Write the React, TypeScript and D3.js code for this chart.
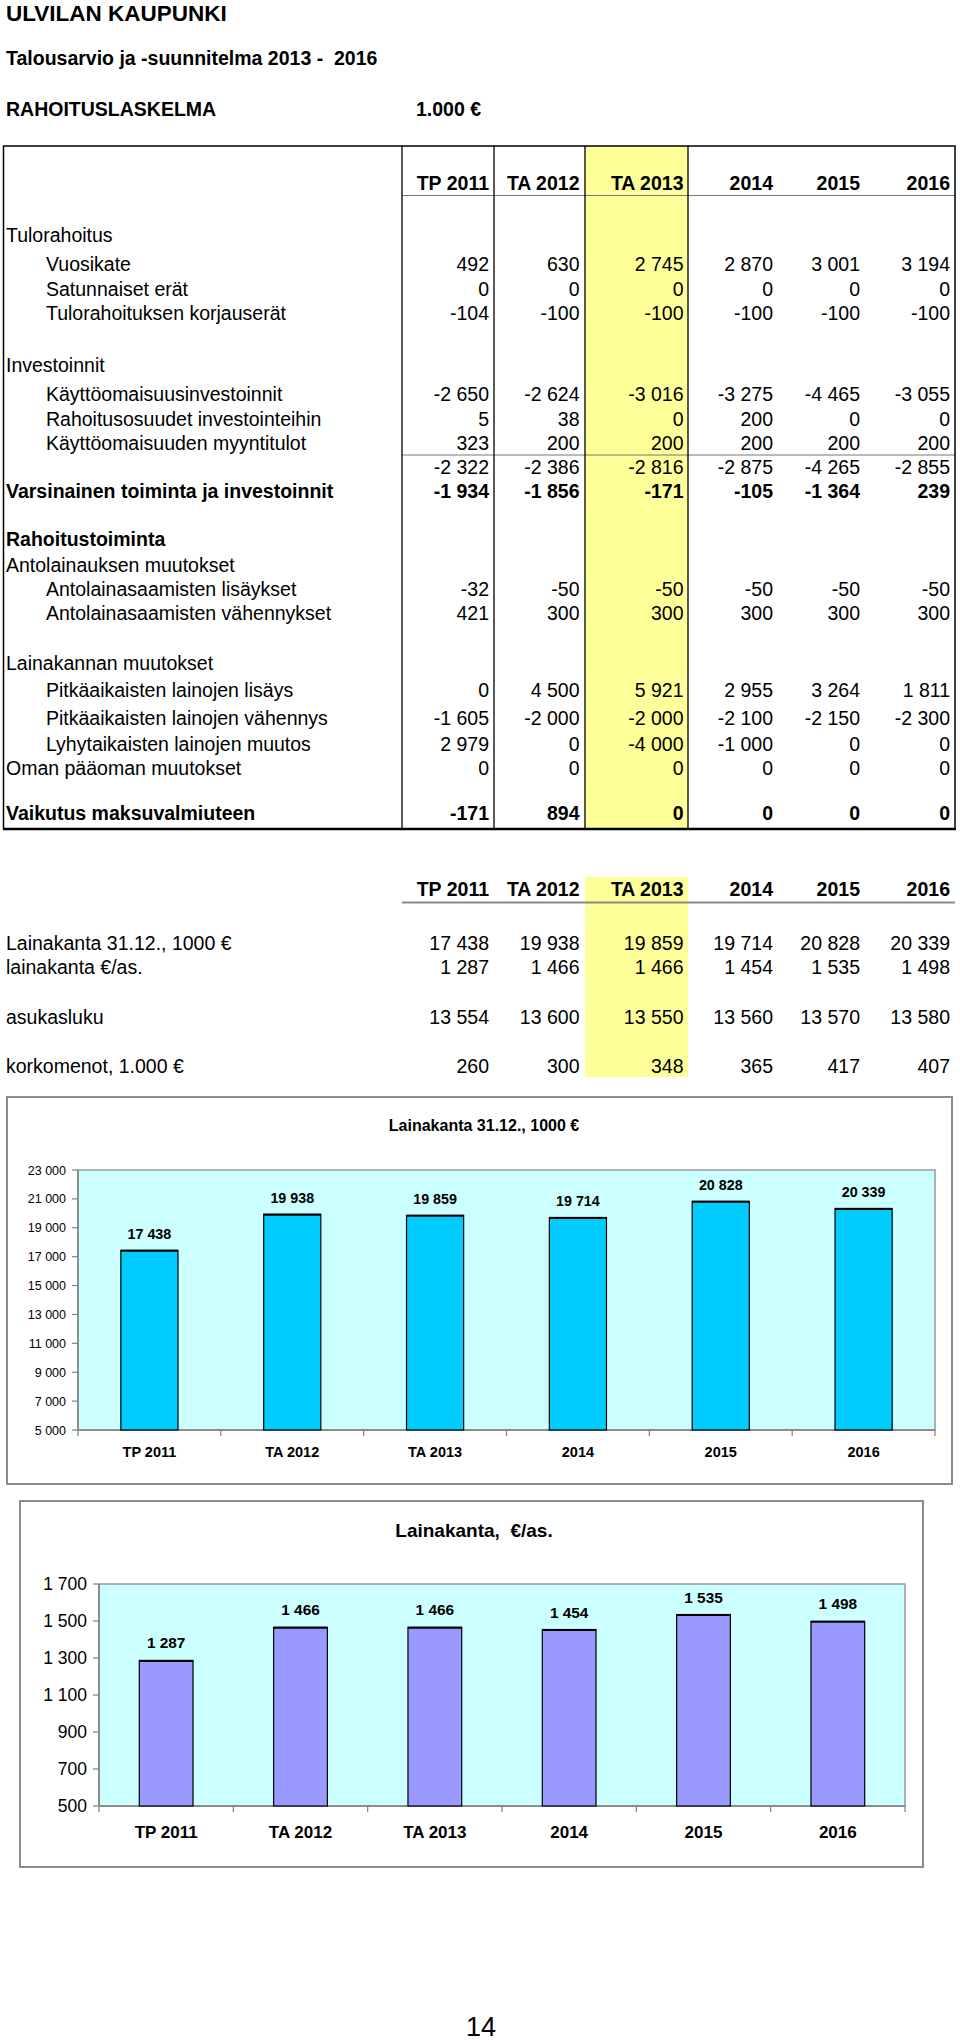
import { formatLocale, range, scaleBand, scaleLinear } from 'd3'

// --- data (1.000 €) ---
const years = ['TP 2011', 'TA 2012', 'TA 2013', '2014', '2015', '2016']

const vuosikate = [492, 630, 2745, 2870, 3001, 3194]
const satunnaisetErat = [0, 0, 0, 0, 0, 0]
const korjauserat = [-104, -100, -100, -100, -100, -100]
const kayttoInvestoinnit = [-2650, -2624, -3016, -3275, -4465, -3055]
const rahoitusosuudet = [5, 38, 0, 200, 0, 0]
const myyntitulot = [323, 200, 200, 200, 200, 200]
const investoinnitYht = [-2322, -2386, -2816, -2875, -4265, -2855]
const varsinainen = [-1934, -1856, -171, -105, -1364, 239]
const antolainaLisays = [-32, -50, -50, -50, -50, -50]
const antolainaVah = [421, 300, 300, 300, 300, 300]
const pitkaLisays = [0, 4500, 5921, 2955, 3264, 1811]
const pitkaVah = [-1605, -2000, -2000, -2100, -2150, -2300]
const lyhytMuutos = [2979, 0, -4000, -1000, 0, 0]
const omaPaaoma = [0, 0, 0, 0, 0, 0]
const vaikutus = [-171, 894, 0, 0, 0, 0]

const lainakanta = [17438, 19938, 19859, 19714, 20828, 20339]
const lainakantaAs = [1287, 1466, 1466, 1454, 1535, 1498]
const asukasluku = [13554, 13600, 13550, 13560, 13570, 13580]
const korkomenot = [260, 300, 348, 365, 417, 407]

type Row = { label: string, values?: number[], indent?: boolean, bold?: boolean }

const tableRows: Row[] = [
  { label: 'Tulorahoitus' },
  { label: 'Vuosikate', values: vuosikate, indent: true },
  { label: 'Satunnaiset erät', values: satunnaisetErat, indent: true },
  { label: 'Tulorahoituksen korjauserät', values: korjauserat, indent: true },
  { label: 'Investoinnit' },
  { label: 'Käyttöomaisuusinvestoinnit', values: kayttoInvestoinnit, indent: true },
  { label: 'Rahoitusosuudet investointeihin', values: rahoitusosuudet, indent: true },
  { label: 'Käyttöomaisuuden myyntitulot', values: myyntitulot, indent: true },
  { label: '', values: investoinnitYht },
  { label: 'Varsinainen toiminta ja investoinnit', values: varsinainen, bold: true },
  { label: 'Rahoitustoiminta', bold: true },
  { label: 'Antolainauksen muutokset' },
  { label: 'Antolainasaamisten lisäykset', values: antolainaLisays, indent: true },
  { label: 'Antolainasaamisten vähennykset', values: antolainaVah, indent: true },
  { label: 'Lainakannan muutokset' },
  { label: 'Pitkäaikaisten lainojen lisäys', values: pitkaLisays, indent: true },
  { label: 'Pitkäaikaisten lainojen vähennys', values: pitkaVah, indent: true },
  { label: 'Lyhytaikaisten lainojen muutos', values: lyhytMuutos, indent: true },
  { label: 'Oman pääoman muutokset', values: omaPaaoma },
  { label: 'Vaikutus maksuvalmiuteen', values: vaikutus, bold: true },
]

const keyRows: Row[] = [
  { label: 'Lainakanta 31.12., 1000 €', values: lainakanta },
  { label: 'lainakanta €/as.', values: lainakantaAs },
  { label: 'asukasluku', values: asukasluku },
  { label: 'korkomenot, 1.000 €', values: korkomenot },
]

// --- layout ---
const rowY = [242, 270.5, 296, 320, 371.5, 400.5, 426, 450, 474.3, 497.5,
  546, 571.7, 596, 620, 670, 697, 725, 750.7, 775, 820]
const keyRowY = [950, 974, 1024, 1072.5]
const colRight = [489, 579.5, 683.5, 773, 860, 950]
const FONT = '"Liberation Sans", Arial, Helvetica, sans-serif'
const FS = 19.5

const fmt = formatLocale({ decimal: ',', thousands: ' ', grouping: [3], currency: ['', '€'], minus: '-' }).format(',d')

const T = ({ x, y, children, size = FS, bold = false, anchor = 'start' }: any) => (
  <text x={x} y={y} fontSize={size} fontWeight={bold ? 'bold' : 'normal'} textAnchor={anchor}
        fontFamily={FONT} fill='#000' style={{ whiteSpace: 'pre' }}>{children}</text>
)

const BarChart = ({ values, title, box, plot, domain, step, fill, titleX, titleSize, titleY, tickSize, catSize, catY, valSize, valGap }: any) => {
  const x = scaleBand().domain(years).range([plot.x0, plot.x1]).paddingInner(0.6).paddingOuter(0.3)
  const y = scaleLinear().domain(domain).range([plot.y1, plot.y0])
  const ticks = range(domain[0], domain[1] + 1, step)
  const edges = range(0, years.length + 1).map(i => plot.x0 + i * x.step())
  return (
    <g>
      <rect x={box.x0} y={box.y0} width={box.x1 - box.x0} height={box.y1 - box.y0} fill='#fff' stroke='#8c8c8c' strokeWidth={2} />
      <T x={titleX} y={titleY} size={titleSize} bold anchor='middle'>{title}</T>
      <rect x={plot.x0} y={plot.y0} width={plot.x1 - plot.x0} height={plot.y1 - plot.y0} fill='#CCFFFF' stroke='#999' strokeWidth={1.5} />
      <line x1={plot.x0} x2={plot.x0} y1={plot.y0} y2={plot.y1} stroke='#808080' strokeWidth={1.5} />
      <line x1={plot.x0} x2={plot.x1} y1={plot.y1} y2={plot.y1} stroke='#808080' strokeWidth={1.5} />
      {ticks.map(t => (
        <g key={t}>
          <line x1={plot.x0 - 6} x2={plot.x0} y1={y(t)} y2={y(t)} stroke='#808080' strokeWidth={1.2} />
          <T x={plot.x0 - 12} y={y(t) + tickSize * 0.36} size={tickSize} anchor='end'>{fmt(t)}</T>
        </g>
      ))}
      {edges.map((e, i) => (
        <line key={i} x1={e} x2={e} y1={plot.y1} y2={plot.y1 + 6} stroke='#808080' strokeWidth={1.2} />
      ))}
      {years.map((c, i) => (
        <g key={c}>
          <rect x={x(c)} y={y(values[i])} width={x.bandwidth()} height={plot.y1 - y(values[i])}
                fill={fill} stroke='#000' strokeWidth={1.2} />
          <line x1={x(c)} x2={(x(c) as number) + x.bandwidth()} y1={y(values[i]) + 0.5} y2={y(values[i]) + 0.5} stroke='#000' strokeWidth={2} />
          <T x={(x(c) as number) + x.bandwidth() / 2} y={y(values[i]) - valGap} size={valSize} bold anchor='middle'>{fmt(values[i])}</T>
          <T x={(x(c) as number) + x.bandwidth() / 2} y={catY} size={catSize} bold anchor='middle'>{c}</T>
        </g>
      ))}
    </g>
  )
}

export default function App() {
  return (
    <svg width={960} height={2041} style={{ position: 'absolute', left: 0, top: 0, display: 'block', background: '#fff' }}>
      <T x={6} y={21} size={22.5} bold>ULVILAN KAUPUNKI</T>
      <T x={6} y={65} bold>Talousarvio ja -suunnitelma 2013 -  2016</T>
      <T x={6} y={116} bold>RAHOITUSLASKELMA</T>
      <T x={416} y={116} bold>1.000 €</T>

      {/* main table */}
      <rect x={585} y={146} width={103} height={683} fill='#FFFF99' />
      <line x1={402} x2={955} y1={195.5} y2={195.5} stroke='#777' strokeWidth={1} />
      <line x1={402} x2={955} y1={455} y2={455} stroke='#777' strokeWidth={1} />
      {[402, 494, 585, 688].map(lx => (
        <line key={lx} x1={lx} x2={lx} y1={146} y2={829} stroke='#000' strokeWidth={1.3} />
      ))}
      <rect x={3.5} y={146} width={951.5} height={683} fill='none' stroke='#000' strokeWidth={1.5} />
      <line x1={3} x2={956} y1={829} y2={829} stroke='#000' strokeWidth={2.5} />
      {years.map((yr, i) => <T key={yr} x={colRight[i]} y={190} bold anchor='end'>{yr}</T>)}
      {tableRows.map((r, ri) => (
        <g key={ri}>
          <T x={r.indent ? 46 : 6} y={rowY[ri]} bold={r.bold}>{r.label}</T>
          {r.values && r.values.map((v, i) => (
            <T key={i} x={colRight[i]} y={rowY[ri]} bold={r.bold} anchor='end'>{fmt(v)}</T>
          ))}
        </g>
      ))}

      {/* key figures */}
      <rect x={585} y={877} width={103} height={200} fill='#FFFF99' />
      <line x1={402} x2={955} y1={902.5} y2={902.5} stroke='#888' strokeWidth={2} />
      {years.map((yr, i) => <T key={yr} x={colRight[i]} y={896} bold anchor='end'>{yr}</T>)}
      {keyRows.map((r, ri) => (
        <g key={ri}>
          <T x={6} y={keyRowY[ri]}>{r.label}</T>
          {r.values!.map((v, i) => <T key={i} x={colRight[i]} y={keyRowY[ri]} anchor='end'>{fmt(v)}</T>)}
        </g>
      ))}

      <BarChart values={lainakanta} title='Lainakanta 31.12., 1000 €'
        box={{ x0: 7, y0: 1097, x1: 952, y1: 1484 }} plot={{ x0: 78, y0: 1170, x1: 935, y1: 1430 }}
        domain={[5000, 23000]} step={2000} fill='#00CCFF'
        titleX={484} titleSize={16} titleY={1131} tickSize={12.5} catSize={14.5} catY={1457} valSize={14.3} valGap={11} />

      <BarChart values={lainakantaAs} title='Lainakanta,  €/as.'
        box={{ x0: 20, y0: 1501, x1: 923, y1: 1867 }} plot={{ x0: 99, y0: 1584, x1: 905, y1: 1806 }}
        domain={[500, 1700]} step={200} fill='#9999FF'
        titleX={474} titleSize={19} titleY={1537} tickSize={17.5} catSize={17} catY={1838} valSize={15.4} valGap={12} />

      <T x={481} y={2036} size={27} anchor='middle'>14</T>
    </svg>
  )
}
